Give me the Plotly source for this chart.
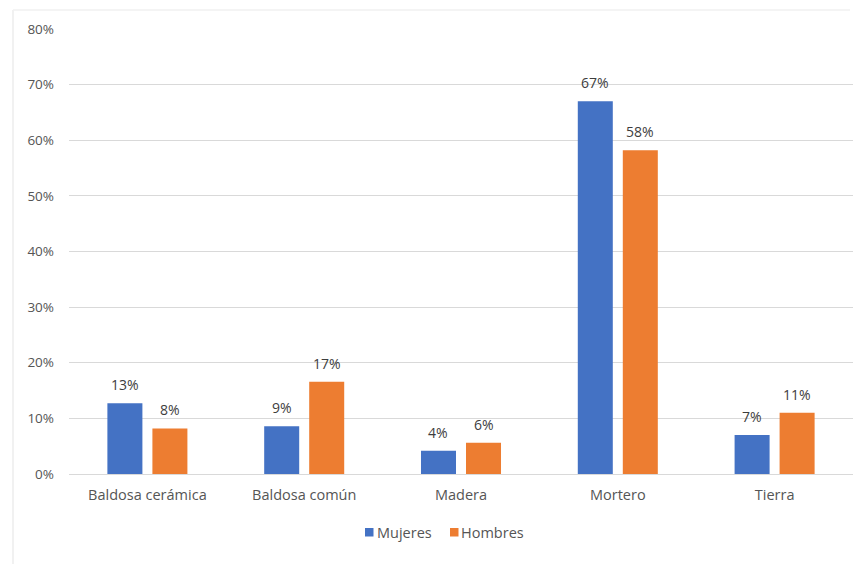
import plotly.graph_objects as go

# Floor material by sex of household head
categories = ["Baldosa cerámica", "Baldosa común", "Madera", "Mortero", "Tierra"]
series_names = ["Mujeres", "Hombres"]
mujeres = [0.127, 0.086, 0.042, 0.670, 0.070]
hombres = [0.082, 0.166, 0.056, 0.582, 0.110]
y_ticks = [0, 0.1, 0.2, 0.3, 0.4, 0.5, 0.6, 0.7, 0.8]
y_tick_labels = ["0%", "10%", "20%", "30%", "40%", "50%", "60%", "70%", "80%"]

FONT = "Open Sans"
LABEL_COLOR = "#3d3d3d"
TICK_COLOR = "#555555"
COLORS = ["#4472C4", "#ED7D31"]

W, H = 861, 564
L, R, T, B = 69, 8, 29, 90
pw, ph = W - L - R, H - T - B

BARGAP, GROUPGAP = 0.426, 0.222
slot_px = pw / len(categories) * (1 - BARGAP) / len(series_names)


def px_x(x):
    return (x - L) / pw


def px_y(y):
    return (T + ph - y) / ph


fig = go.Figure()
annotations = []
for i, (name, vals) in enumerate(zip(series_names, [mujeres, hombres])):
    fig.add_trace(go.Bar(
        name=name, x=categories, y=vals,
        marker=dict(color=COLORS[i], line=dict(width=0)),
        showlegend=False,
    ))
    shift = (i - (len(series_names) - 1) / 2) * slot_px
    for cat, v in zip(categories, vals):
        annotations.append(dict(
            x=cat, y=v, xref="x", yref="y", text=f"{round(v * 100)}%",
            showarrow=False, xshift=shift, yshift=7, yanchor="bottom",
            font=dict(family=FONT, size=14, color=LABEL_COLOR),
        ))

# Legend drawn as small squares with their labels
legend_items = [(365, 378), (450, 462)]
shapes = []
for (sq_x, txt_x), name, color in zip(legend_items, series_names, COLORS):
    shapes.append(dict(type="rect", xref="paper", yref="paper",
                       x0=px_x(sq_x), x1=px_x(sq_x + 8.5),
                       y0=px_y(536.5), y1=px_y(528),
                       fillcolor=color, line=dict(width=0)))
    annotations.append(dict(x=px_x(txt_x - 3), y=px_y(532), xref="paper", yref="paper",
                            text=name, showarrow=False, xanchor="left", yanchor="middle",
                            font=dict(family=FONT, size=14.5, color=TICK_COLOR)))

# Faint outer frame
shapes += [
    dict(type="line", xref="paper", yref="paper",
         x0=px_x(13), x1=px_x(13), y0=px_y(H + 5), y1=px_y(10),
         line=dict(color="#ececec", width=1.5)),
    dict(type="line", xref="paper", yref="paper",
         x0=px_x(13), x1=px_x(850), y0=px_y(10), y1=px_y(10),
         line=dict(color="#f0f0f0", width=1.5)),
]

fig.update_layout(
    width=W, height=H,
    margin=dict(l=L, r=R, t=T, b=B),
    paper_bgcolor="white", plot_bgcolor="white",
    barmode="group", bargap=BARGAP, bargroupgap=GROUPGAP,
    font=dict(family=FONT, size=13, color=TICK_COLOR),
    showlegend=False,
    xaxis=dict(showgrid=False, showline=True, linecolor="#d9d9d9", linewidth=1,
               ticks="", tickfont=dict(family=FONT, size=14.5, color=TICK_COLOR),
               ticklabelstandoff=8),
    yaxis=dict(range=[0, 0.8], tickvals=y_ticks, ticktext=y_tick_labels,
               showgrid=True, gridcolor="#d9d9d9", gridwidth=1, zeroline=False,
               showline=False, ticks="", ticklabelstandoff=14,
               tickfont=dict(family=FONT, size=13.5, color=TICK_COLOR)),
    shapes=shapes,
    annotations=annotations,
)

fig.write_html("out.html")
